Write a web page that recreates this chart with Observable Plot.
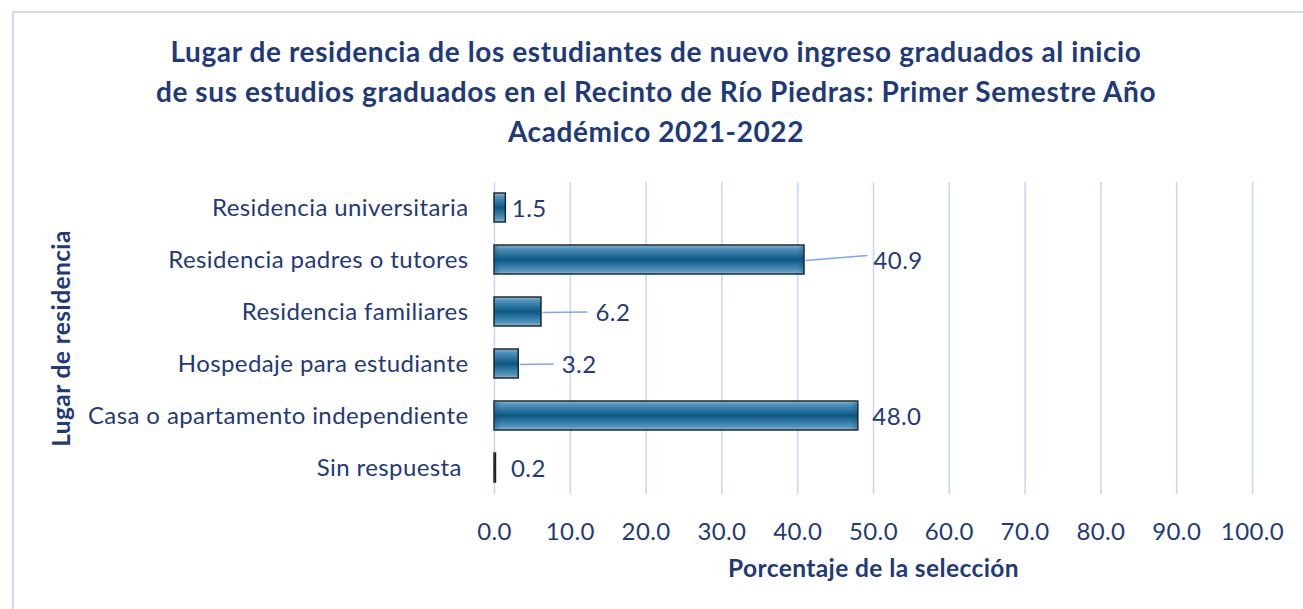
<!DOCTYPE html>
<html>
<head>
<meta charset="utf-8">
<script src="https://cdn.jsdelivr.net/npm/d3@7"></script>
<script src="https://cdn.jsdelivr.net/npm/@observablehq/plot@0.6"></script>
<style>
  html, body { margin: 0; padding: 0; background: #fff; }
  body { width: 1303px; height: 609px; overflow: hidden; position: relative; font-family: Lato, "Open Sans", sans-serif; }
  #frame { position: absolute; left: 12px; top: 11px; width: 1310px; height: 620px; border: 2px solid #cddcf7; box-sizing: border-box; }
  #title { position: absolute; left: 0; top: 31px; width: 1303px; padding-left: 9px; box-sizing: border-box; text-align: center;
           font-family: Lato, sans-serif; font-weight: bold; font-size: 28px; letter-spacing: 0.6px; line-height: 40px; color: #1f3a78; }
  #chart { position: absolute; left: 0; top: 170px; }
  #chart svg { overflow: visible; }
  #chart g[aria-label="y-axis tick label"] text { white-space: pre; }
  #chart text { letter-spacing: 0.4px; }
  #chart g[aria-label="x-axis label"] text, #chart g[aria-label="y-axis label"] text { font-weight: bold; font-size: 24.5px; }
</style>
</head>
<body>
<div id="frame"></div>
<div id="title">Lugar de residencia de los estudiantes de nuevo ingreso graduados al inicio<br>de sus estudios graduados en el Recinto de Río Piedras: Primer Semestre Año<br>Académico 2021-2022</div>
<div id="chart"></div>
<script>
// Data
const categories = [
  "Residencia universitaria",
  "Residencia padres o tutores",
  "Residencia familiares",
  "Hospedaje para estudiante",
  "Casa o apartamento independiente",
  "Sin respuesta "
];
const values = [1.5, 40.9, 6.2, 3.2, 48.0, 0.2];
const xTicks = [0, 10, 20, 30, 40, 50, 60, 70, 80, 90, 100];

const rows = categories.map((c, i) => ({cat: c, value: values[i]}));

// label placement (px offsets from bar end) and leader-line lengths
const labelGap = [6, 69, 54, 43, 14, 15];
const leaderLen = [0, 62, 45, 34, 0, 0];
const leaderRise = [0, -4.5, 0, 0, 0, 0];

const navy = "#1f3a78";
const marks = [
  Plot.gridX(xTicks, {stroke: "#c9d8f6", strokeOpacity: 1, strokeWidth: 1.6}),
  Plot.barX(rows, {y: "cat", x: "value", fill: "url(#barGrad)", stroke: "#1b1b1b", strokeWidth: 1.4}),
  Plot.barX(rows, {y: "cat", x: "value", fill: "url(#barSide)", stroke: "none"})
];
rows.forEach((d, i) => {
  if (leaderLen[i] > 0) {
    marks.push(Plot.link([d], {
      x1: "value", x2: "value", y1: "cat", y2: "cat",
      stroke: "#7fa6ef", strokeWidth: 1.5,
      render: (index, scales, values, dims, ctx, next) => {
        const g = next(index, scales, values, dims, ctx);
        const p = g.querySelector("path");
        if (p) {
          const x0 = scales.x(d.value) + 1, y0 = scales.y(d.cat);
          p.setAttribute("d", `M${x0},${y0 + 0.5}L${x0 + leaderLen[i]},${y0 + leaderRise[i]}`);
        }
        return g;
      }
    }));
  }
  marks.push(Plot.text([d], {
    y: "cat", x: "value", text: v => d3.format(".1f")(v.value),
    textAnchor: "start", dx: labelGap[i], dy: 1, fill: navy, fontSize: 24
  }));
});

const chart = Plot.plot({
  width: 1303,
  height: 430,
  marginLeft: 494,
  marginRight: 51,
  marginTop: 12,
  marginBottom: 106,
  style: {fontFamily: "Lato, sans-serif", fontSize: "24px", color: navy, background: "transparent"},
  x: {domain: [0, 100], ticks: xTicks},
  y: {domain: categories, paddingInner: 0.44, paddingOuter: 0.22},
  marks: [
    ...marks,
    Plot.axisX({ticks: xTicks, tickFormat: d3.format(".1f"), tickSize: 0, tickPadding: 28, fontSize: 24,
      label: "Porcentaje de la selección", labelAnchor: "center", labelArrow: "none", labelOffset: 82}),
    Plot.axisY({tickSize: 0, tickPadding: 26, fontSize: 24,
      label: "Lugar de residencia", labelAnchor: "center", labelArrow: "none", labelOffset: 442})
  ]
});

// gradient definitions for the bevelled bars
const ns = "http://www.w3.org/2000/svg";
const defs = document.createElementNS(ns, "defs");
defs.innerHTML = `
  <linearGradient id="barGrad" x1="0" y1="0" x2="0" y2="1">
    <stop offset="0" stop-color="#8dbad6"/>
    <stop offset="0.12" stop-color="#4f93bd"/>
    <stop offset="0.5" stop-color="#0c5883"/>
    <stop offset="0.88" stop-color="#4f93bd"/>
    <stop offset="1" stop-color="#8dbad6"/>
  </linearGradient>
  <linearGradient id="barSide" x1="0" y1="0" x2="1" y2="0">
    <stop offset="0" stop-color="#0b4d73" stop-opacity="0.35"/>
    <stop offset="0.02" stop-color="#0b4d73" stop-opacity="0"/>
    <stop offset="0.98" stop-color="#0b4d73" stop-opacity="0"/>
    <stop offset="1" stop-color="#0b4d73" stop-opacity="0.35"/>
  </linearGradient>`;
chart.insertBefore(defs, chart.firstChild);
chart.querySelectorAll('g[aria-label="x-axis label"] text, g[aria-label="y-axis label"] text').forEach(t => {
  t.setAttribute("font-weight", "bold"); t.setAttribute("fill", navy);
});
document.getElementById("chart").appendChild(chart);
</script>
</body>
</html>
